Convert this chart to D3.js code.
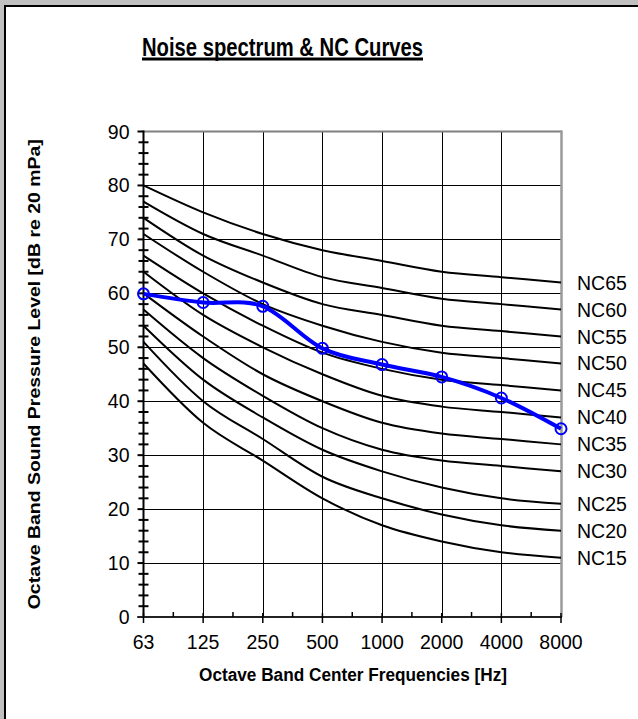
<!DOCTYPE html>
<html>
<head>
<meta charset="utf-8">
<script src="https://cdn.jsdelivr.net/npm/d3@7"></script>
<style>
  html, body { margin: 0; padding: 0; background: #c0c0c0; }
  svg { display: block; }
  text { font-family: "Liberation Sans", Arial, sans-serif; fill: #000; }
</style>
</head>
<body>
<svg id="chart" width="638" height="719"></svg>
<script>
// Octave band centre frequencies (category axis)
const frequencies = ["63", "125", "250", "500", "1000", "2000", "4000", "8000"];

// NC reference curves, dB per octave band
const nc15 = [47, 36, 29, 22, 17, 14, 12, 11];
const nc20 = [51, 40, 33, 26, 22, 19, 17, 16];
const nc25 = [54, 44, 37, 31, 27, 24, 22, 21];
const nc30 = [57, 48, 41, 35, 31, 29, 28, 27];
const nc35 = [60, 52, 45, 40, 36, 34, 33, 32];
const nc40 = [64, 56, 50, 45, 41, 39, 38, 37];
const nc45 = [67, 60, 54, 49, 46, 44, 43, 42];
const nc50 = [71, 64, 58, 54, 51, 49, 48, 47];
const nc55 = [74, 67, 62, 58, 56, 54, 53, 52];
const nc60 = [77, 71, 67, 63, 61, 59, 58, 57];
const nc65 = [80, 75, 71, 68, 66, 64, 63, 62];
const ncNames = ["NC15", "NC20", "NC25", "NC30", "NC35", "NC40", "NC45", "NC50", "NC55", "NC60", "NC65"];

// Measured noise spectrum
const spectrum = [59.9, 58.3, 57.6, 49.8, 46.8, 44.5, 40.6, 34.9];

// Value axis ticks
const yTicks = [0, 10, 20, 30, 40, 50, 60, 70, 80, 90];
const yMinorTicks = d3.range(0, 91, 2).filter(v => v % 10 !== 0);

const ncValues = [nc15, nc20, nc25, nc30, nc35, nc40, nc45, nc50, nc55, nc60, nc65];
const ncCurves = ncNames.map((name, i) => ({ name, values: ncValues[i] }));

const svg = d3.select("#chart");
const W = 638, H = 719;
const plot = { left: 143.5, right: 561, top: 131.5, bottom: 617 };

// Sheet background with the raised white page
svg.append("rect").attr("x", 6).attr("y", 6).attr("width", W - 6).attr("height", H - 6).attr("fill", "#fff");
svg.append("line").attr("x1", 5).attr("x2", 5).attr("y1", 5).attr("y2", H).attr("stroke", "#000").attr("stroke-width", 2);
svg.append("line").attr("x1", 5).attr("x2", W).attr("y1", 6).attr("y2", 6).attr("stroke", "#000").attr("stroke-width", 2);

const x = d3.scalePoint().domain(frequencies).range([plot.left, plot.right]);
const y = d3.scaleLinear().domain([0, 90]).range([plot.bottom, plot.top]);

// Title
const title = svg.append("text")
  .attr("x", 282.5).attr("y", 56)
  .attr("text-anchor", "middle")
  .attr("font-size", 25).attr("font-weight", "bold")
  .attr("textLength", 281).attr("lengthAdjust", "spacingAndGlyphs")
  .text("Noise spectrum & NC Curves");
const tb = title.node().getBBox();
svg.append("rect").attr("x", tb.x).attr("y", 57.5).attr("width", tb.width).attr("height", 3).attr("fill", "#000");

// Grid
const grid = svg.append("g");
grid.selectAll("line.h").data(yTicks.filter(v => v > 0 && v < 90)).join("line")
  .attr("x1", plot.left).attr("x2", plot.right)
  .attr("y1", d => Math.round(y(d)) + 0.5).attr("y2", d => Math.round(y(d)) + 0.5)
  .attr("stroke", "#000").attr("stroke-width", 1);
grid.selectAll("line.v").data(frequencies.slice(1, -1)).join("line")
  .attr("x1", d => Math.round(x(d)) + 0.5).attr("x2", d => Math.round(x(d)) + 0.5)
  .attr("y1", plot.top).attr("y2", plot.bottom)
  .attr("stroke", "#000").attr("stroke-width", 1);

// Plot-area frame (top and right)
svg.append("line").attr("x1", plot.left).attr("x2", plot.right + 1).attr("y1", y(90)).attr("y2", y(90))
  .attr("stroke", "#808080").attr("stroke-width", 2);
svg.append("line").attr("x1", plot.right + 0.5).attr("x2", plot.right + 0.5).attr("y1", y(90) - 1).attr("y2", plot.bottom)
  .attr("stroke", "#9a9a9a").attr("stroke-width", 2.5);

// NC curves
const smooth = d3.line()
  .x((d, i) => x(frequencies[i]))
  .y(d => y(d))
  .curve(d3.curveCardinal.tension(0));

svg.append("g").selectAll("path").data(ncCurves).join("path")
  .attr("d", d => smooth(d.values))
  .attr("fill", "none").attr("stroke", "#000").attr("stroke-width", 2);

svg.append("g").selectAll("text").data(ncCurves).join("text")
  .attr("x", plot.right + 16)
  .attr("y", d => y(d.values[d.values.length - 1]))
  .attr("dy", "0.36em")
  .attr("font-size", 19.5)
  .text(d => d.name);

// Y axis
const yAxis = svg.append("g");
yAxis.append("line").attr("x1", plot.left).attr("x2", plot.left).attr("y1", y(90) - 1).attr("y2", plot.bottom + 1)
  .attr("stroke", "#000").attr("stroke-width", 2);
yAxis.selectAll("line.major").data(yTicks).join("line")
  .attr("x1", plot.left - 6).attr("x2", plot.left)
  .attr("y1", d => y(d)).attr("y2", d => y(d))
  .attr("stroke", "#000").attr("stroke-width", 2);
yAxis.selectAll("line.minor").data(yMinorTicks).join("line")
  .attr("x1", plot.left - 5).attr("x2", plot.left + 5)
  .attr("y1", d => y(d)).attr("y2", d => y(d))
  .attr("stroke", "#000").attr("stroke-width", 2);
yAxis.selectAll("text").data(yTicks).join("text")
  .attr("x", plot.left - 14).attr("y", d => y(d)).attr("dy", "0.36em")
  .attr("text-anchor", "end").attr("font-size", 19.5)
  .text(d => d);

// X axis
const xAxis = svg.append("g");
xAxis.append("line").attr("x1", plot.left - 6).attr("x2", plot.right + 1).attr("y1", plot.bottom).attr("y2", plot.bottom)
  .attr("stroke", "#222").attr("stroke-width", 2);
xAxis.selectAll("line.major").data(frequencies).join("line")
  .attr("x1", d => x(d)).attr("x2", d => x(d))
  .attr("y1", plot.bottom - 4).attr("y2", plot.bottom + 6)
  .attr("stroke", "#000").attr("stroke-width", 1.5);
const mids = frequencies.slice(1).map((f, i) => (x(f) + x(frequencies[i])) / 2);
xAxis.selectAll("line.minor").data(mids).join("line")
  .attr("x1", d => d).attr("x2", d => d)
  .attr("y1", plot.bottom - 5).attr("y2", plot.bottom)
  .attr("stroke", "#000").attr("stroke-width", 1.5);
xAxis.selectAll("text").data(frequencies).join("text")
  .attr("x", d => x(d)).attr("y", 649)
  .attr("text-anchor", "middle").attr("font-size", 19.5)
  .text(d => d);

// Axis titles
svg.append("text")
  .attr("x", 353).attr("y", 681)
  .attr("text-anchor", "middle").attr("font-size", 18).attr("font-weight", "bold")
  .attr("textLength", 308).attr("lengthAdjust", "spacingAndGlyphs")
  .text("Octave Band Center Frequencies [Hz]");
svg.append("text")
  .attr("transform", `translate(40,${(plot.top + plot.bottom) / 2}) rotate(-90)`)
  .attr("text-anchor", "middle").attr("font-size", 17).attr("font-weight", "bold")
  .attr("textLength", 470).attr("lengthAdjust", "spacingAndGlyphs")
  .text("Octave Band Sound Pressure Level [dB re 20 mPa]");

// Measured spectrum
svg.append("path")
  .attr("d", smooth(spectrum))
  .attr("fill", "none").attr("stroke", "#0000ff").attr("stroke-width", 4);
svg.append("g").selectAll("circle").data(spectrum).join("circle")
  .attr("cx", (d, i) => x(frequencies[i])).attr("cy", d => y(d))
  .attr("r", 5.5)
  .attr("fill", "none").attr("stroke", "#0000ff").attr("stroke-width", 2);
</script>
</body>
</html>
